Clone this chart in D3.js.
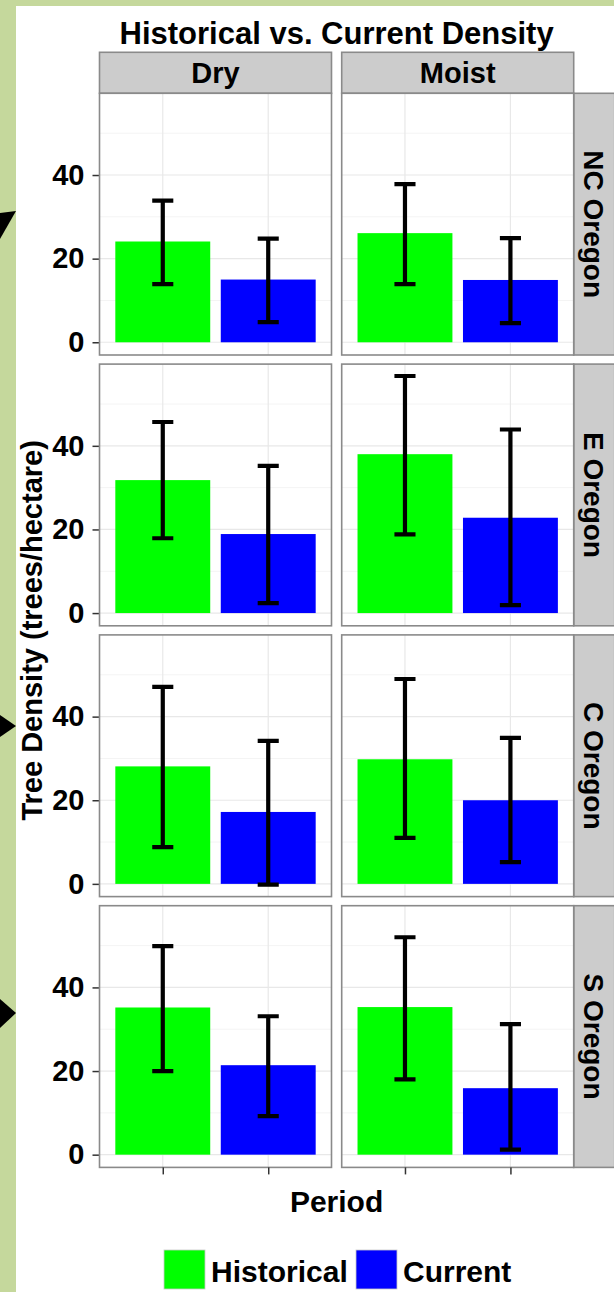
<!DOCTYPE html>
<title>Historical vs. Current Density</title>
<meta charset="utf-8">
<style>
  body {
    margin: 0;
    font-family: "Liberation Sans", Arial, Helvetica, sans-serif;
  }
  svg text {
    font-weight: bold;
    fill: #000;
  }
  .grid-major { stroke: #e8e8e8; stroke-width: 1.2px; }
  .grid-minor { stroke: #f4f4f4; stroke-width: 1px; }
  .frame { fill: none; stroke: #8a8a8a; stroke-width: 1.6px; }
  .strip { fill: #cccccc; stroke: #8a8a8a; stroke-width: 1.6px; }
  .errbar { stroke: #000; stroke-width: 4.2px; fill: none; }
</style>
<body></body>
<script src="https://d3js.org/d3.v7.min.js"></script>
<script>
  // facet rows / columns and the x categories
  var regions = ["NC Oregon", "E Oregon", "C Oregon", "S Oregon"];
  var moisture = ["Dry", "Moist"];
  var periods = ["Historical", "Current"];
  var yTicks = [0, 20, 40];

  // values, order: NC Dry, NC Moist, E Dry, E Moist, C Dry, C Moist, S Dry, S Moist
  var histMean = [24.1, 26.1, 31.8, 38.0, 28.1, 29.8, 35.2, 35.3];
  var histLow  = [13.9, 13.9, 17.9, 18.8,  8.8, 11.0, 20.0, 18.0];
  var histHigh = [33.9, 37.8, 45.7, 56.7, 47.1, 49.0, 49.9, 52.0];
  var curMean  = [15.0, 14.9, 18.9, 22.8, 17.2, 20.0, 21.4, 15.9];
  var curLow   = [ 4.8,  4.6,  2.4,  1.9, -0.2,  5.2,  9.2,  1.2];
  var curHigh  = [24.8, 24.9, 35.2, 43.9, 34.2, 34.9, 33.1, 31.2];

  var colors = {"Historical": "#00ff00", "Current": "#0000ff"};

  // build one row per bar
  var data = [];
  regions.forEach(function(r, ri) {
    moisture.forEach(function(m, mi) {
      var k = ri * 2 + mi;
      data.push({region: r, moisture: m, period: "Historical", mean: histMean[k], lo: histLow[k], hi: histHigh[k]});
      data.push({region: r, moisture: m, period: "Current", mean: curMean[k], lo: curLow[k], hi: curHigh[k]});
    });
  });

  // page layout
  var W = 614, H = 1292;
  var colLeft = [99.5, 341.7], panelW = 232;
  var rowTop0 = 93.3, rowStep = 270.8, panelH = 261.7;
  var stripTop = 52.3, stripH = 41;

  var svg = d3.select("body").append("svg")
      .attr("width", W)
      .attr("height", H);

  // background and the slide's green border
  svg.append("rect").attr("width", W).attr("height", H).attr("fill", "#fff");
  svg.append("rect").attr("width", 16).attr("height", H).attr("fill", "#c5d89c");
  svg.append("rect").attr("width", W).attr("height", 6).attr("fill", "#c5d89c");

  // arrow tips poking in from the left
  var arrows = [
    [[0, 213], [16, 211], [0, 239]],
    [[0, 715], [16, 726], [0, 737]],
    [[0, 999], [16, 1013], [0, 1028]]
  ];
  svg.selectAll(".arrow").data(arrows).enter().append("path")
      .attr("class", "arrow")
      .attr("d", function(p) { return "M" + p.join("L") + "Z"; })
      .attr("fill", "#000");

  // scales (ggplot style: discrete expand 0.6, continuous expand 5%)
  var x = d3.scalePoint().domain(periods).range([0, panelW]).padding(0.6);
  var barW = x.step() * 0.9;
  var capW = x.step() * 0.2;

  var yMin = Math.min(0, d3.min(data, function(d) { return d.lo; }));
  var yMax = d3.max(data, function(d) { return d.hi; });
  var pad = (yMax - yMin) * 0.05;
  var y = d3.scaleLinear().domain([yMin - pad, yMax + pad]).range([panelH, 0]);
  var minorTicks = [10, 30, 50];

  // title
  svg.append("text")
      .attr("x", (colLeft[0] + colLeft[1] + panelW) / 2)
      .attr("y", 44)
      .attr("text-anchor", "middle")
      .style("font-size", "31px")
      .text("Historical vs. Current Density");

  // column strips
  moisture.forEach(function(m, mi) {
    svg.append("rect").attr("class", "strip")
        .attr("x", colLeft[mi]).attr("y", stripTop)
        .attr("width", panelW).attr("height", stripH);
    svg.append("text")
        .attr("x", colLeft[mi] + panelW / 2)
        .attr("y", stripTop + stripH / 2)
        .attr("dy", "0.36em")
        .attr("text-anchor", "middle")
        .style("font-size", "29px")
        .text(m);
  });

  regions.forEach(function(r, ri) {
    var top = rowTop0 + ri * rowStep;

    // row strip on the right
    var sx = colLeft[1] + panelW;
    svg.append("rect").attr("class", "strip")
        .attr("x", sx).attr("y", top)
        .attr("width", stripH).attr("height", panelH);
    svg.append("text")
        .attr("transform", "translate(" + (sx + stripH / 2) + "," + (top + panelH / 2) + ") rotate(90)")
        .attr("dy", "0.36em")
        .attr("text-anchor", "middle")
        .style("font-size", "28px")
        .text(r);

    // y axis on the left column
    var yAxis = svg.append("g")
        .attr("transform", "translate(" + colLeft[0] + "," + top + ")")
        .call(d3.axisLeft(y).tickValues(yTicks).tickSize(7).tickPadding(8).tickFormat(d3.format("d")));
    yAxis.select(".domain").remove();
    yAxis.selectAll(".tick line").attr("stroke", "#333").attr("stroke-width", 1.5);
    yAxis.selectAll(".tick text")
        .attr("fill", "#000")
        .style("font-size", "29px")
        .style("font-family", "'Liberation Sans', Arial, sans-serif");

    moisture.forEach(function(m, mi) {
      var g = svg.append("g")
          .attr("transform", "translate(" + colLeft[mi] + "," + top + ")");
      var rows = data.filter(function(d) { return d.region === r && d.moisture === m; });

      g.append("rect").attr("width", panelW).attr("height", panelH).attr("fill", "#fff");

      g.selectAll(".grid-minor").data(minorTicks).enter().append("line")
          .attr("class", "grid-minor")
          .attr("x1", 0).attr("x2", panelW)
          .attr("y1", function(d) { return y(d); })
          .attr("y2", function(d) { return y(d); });
      g.selectAll(".grid-y").data(yTicks).enter().append("line")
          .attr("class", "grid-major grid-y")
          .attr("x1", 0).attr("x2", panelW)
          .attr("y1", function(d) { return y(d); })
          .attr("y2", function(d) { return y(d); });
      g.selectAll(".grid-x").data(periods).enter().append("line")
          .attr("class", "grid-major grid-x")
          .attr("y1", 0).attr("y2", panelH)
          .attr("x1", function(d) { return x(d); })
          .attr("x2", function(d) { return x(d); });

      g.selectAll(".bar").data(rows).enter().append("rect")
          .attr("class", "bar")
          .attr("x", function(d) { return x(d.period) - barW / 2; })
          .attr("width", barW)
          .attr("y", function(d) { return y(d.mean); })
          .attr("height", function(d) { return y(0) - y(d.mean); })
          .attr("fill", function(d) { return colors[d.period]; });

      // error bars with caps
      g.selectAll(".errbar").data(rows).enter().append("path")
          .attr("class", "errbar")
          .attr("d", function(d) {
            var cx = x(d.period);
            return "M" + cx + "," + y(d.hi) + "V" + y(d.lo) +
                   "M" + (cx - capW / 2) + "," + y(d.hi) + "H" + (cx + capW / 2) +
                   "M" + (cx - capW / 2) + "," + y(d.lo) + "H" + (cx + capW / 2);
          });

      g.append("rect").attr("class", "frame").attr("width", panelW).attr("height", panelH);

      // x ticks under the bottom row, no labels
      if (ri === regions.length - 1) {
        var xAxis = g.append("g")
            .attr("transform", "translate(0," + panelH + ")")
            .call(d3.axisBottom(x).tickSize(7).tickFormat(""));
        xAxis.select(".domain").remove();
        xAxis.selectAll(".tick line").attr("stroke", "#333").attr("stroke-width", 1.5);
      }
    });
  });

  // axis titles
  var plotMid = (colLeft[0] + colLeft[1] + panelW) / 2;
  svg.append("text")
      .attr("x", plotMid)
      .attr("y", 1212)
      .attr("text-anchor", "middle")
      .style("font-size", "30px")
      .text("Period");

  svg.append("text")
      .attr("transform", "translate(42," + (rowTop0 + (3 * rowStep + panelH) / 2) + ") rotate(-90)")
      .attr("text-anchor", "middle")
      .style("font-size", "29px")
      .text("Tree Density (trees/hectare)");

  // legend
  var legendX = [164, 356];
  var legend = svg.selectAll(".legend").data(periods).enter().append("g")
      .attr("class", "legend")
      .attr("transform", function(d, i) { return "translate(" + legendX[i] + ",1250)"; });
  legend.append("rect")
      .attr("width", 41).attr("height", 39)
      .attr("fill", function(d) { return colors[d]; })
      .attr("stroke", "#c8c8c8").attr("stroke-width", 0.8);
  legend.append("text")
      .attr("x", 47).attr("y", 32)
      .style("font-size", "30px")
      .text(function(d) { return d; });
</script>
